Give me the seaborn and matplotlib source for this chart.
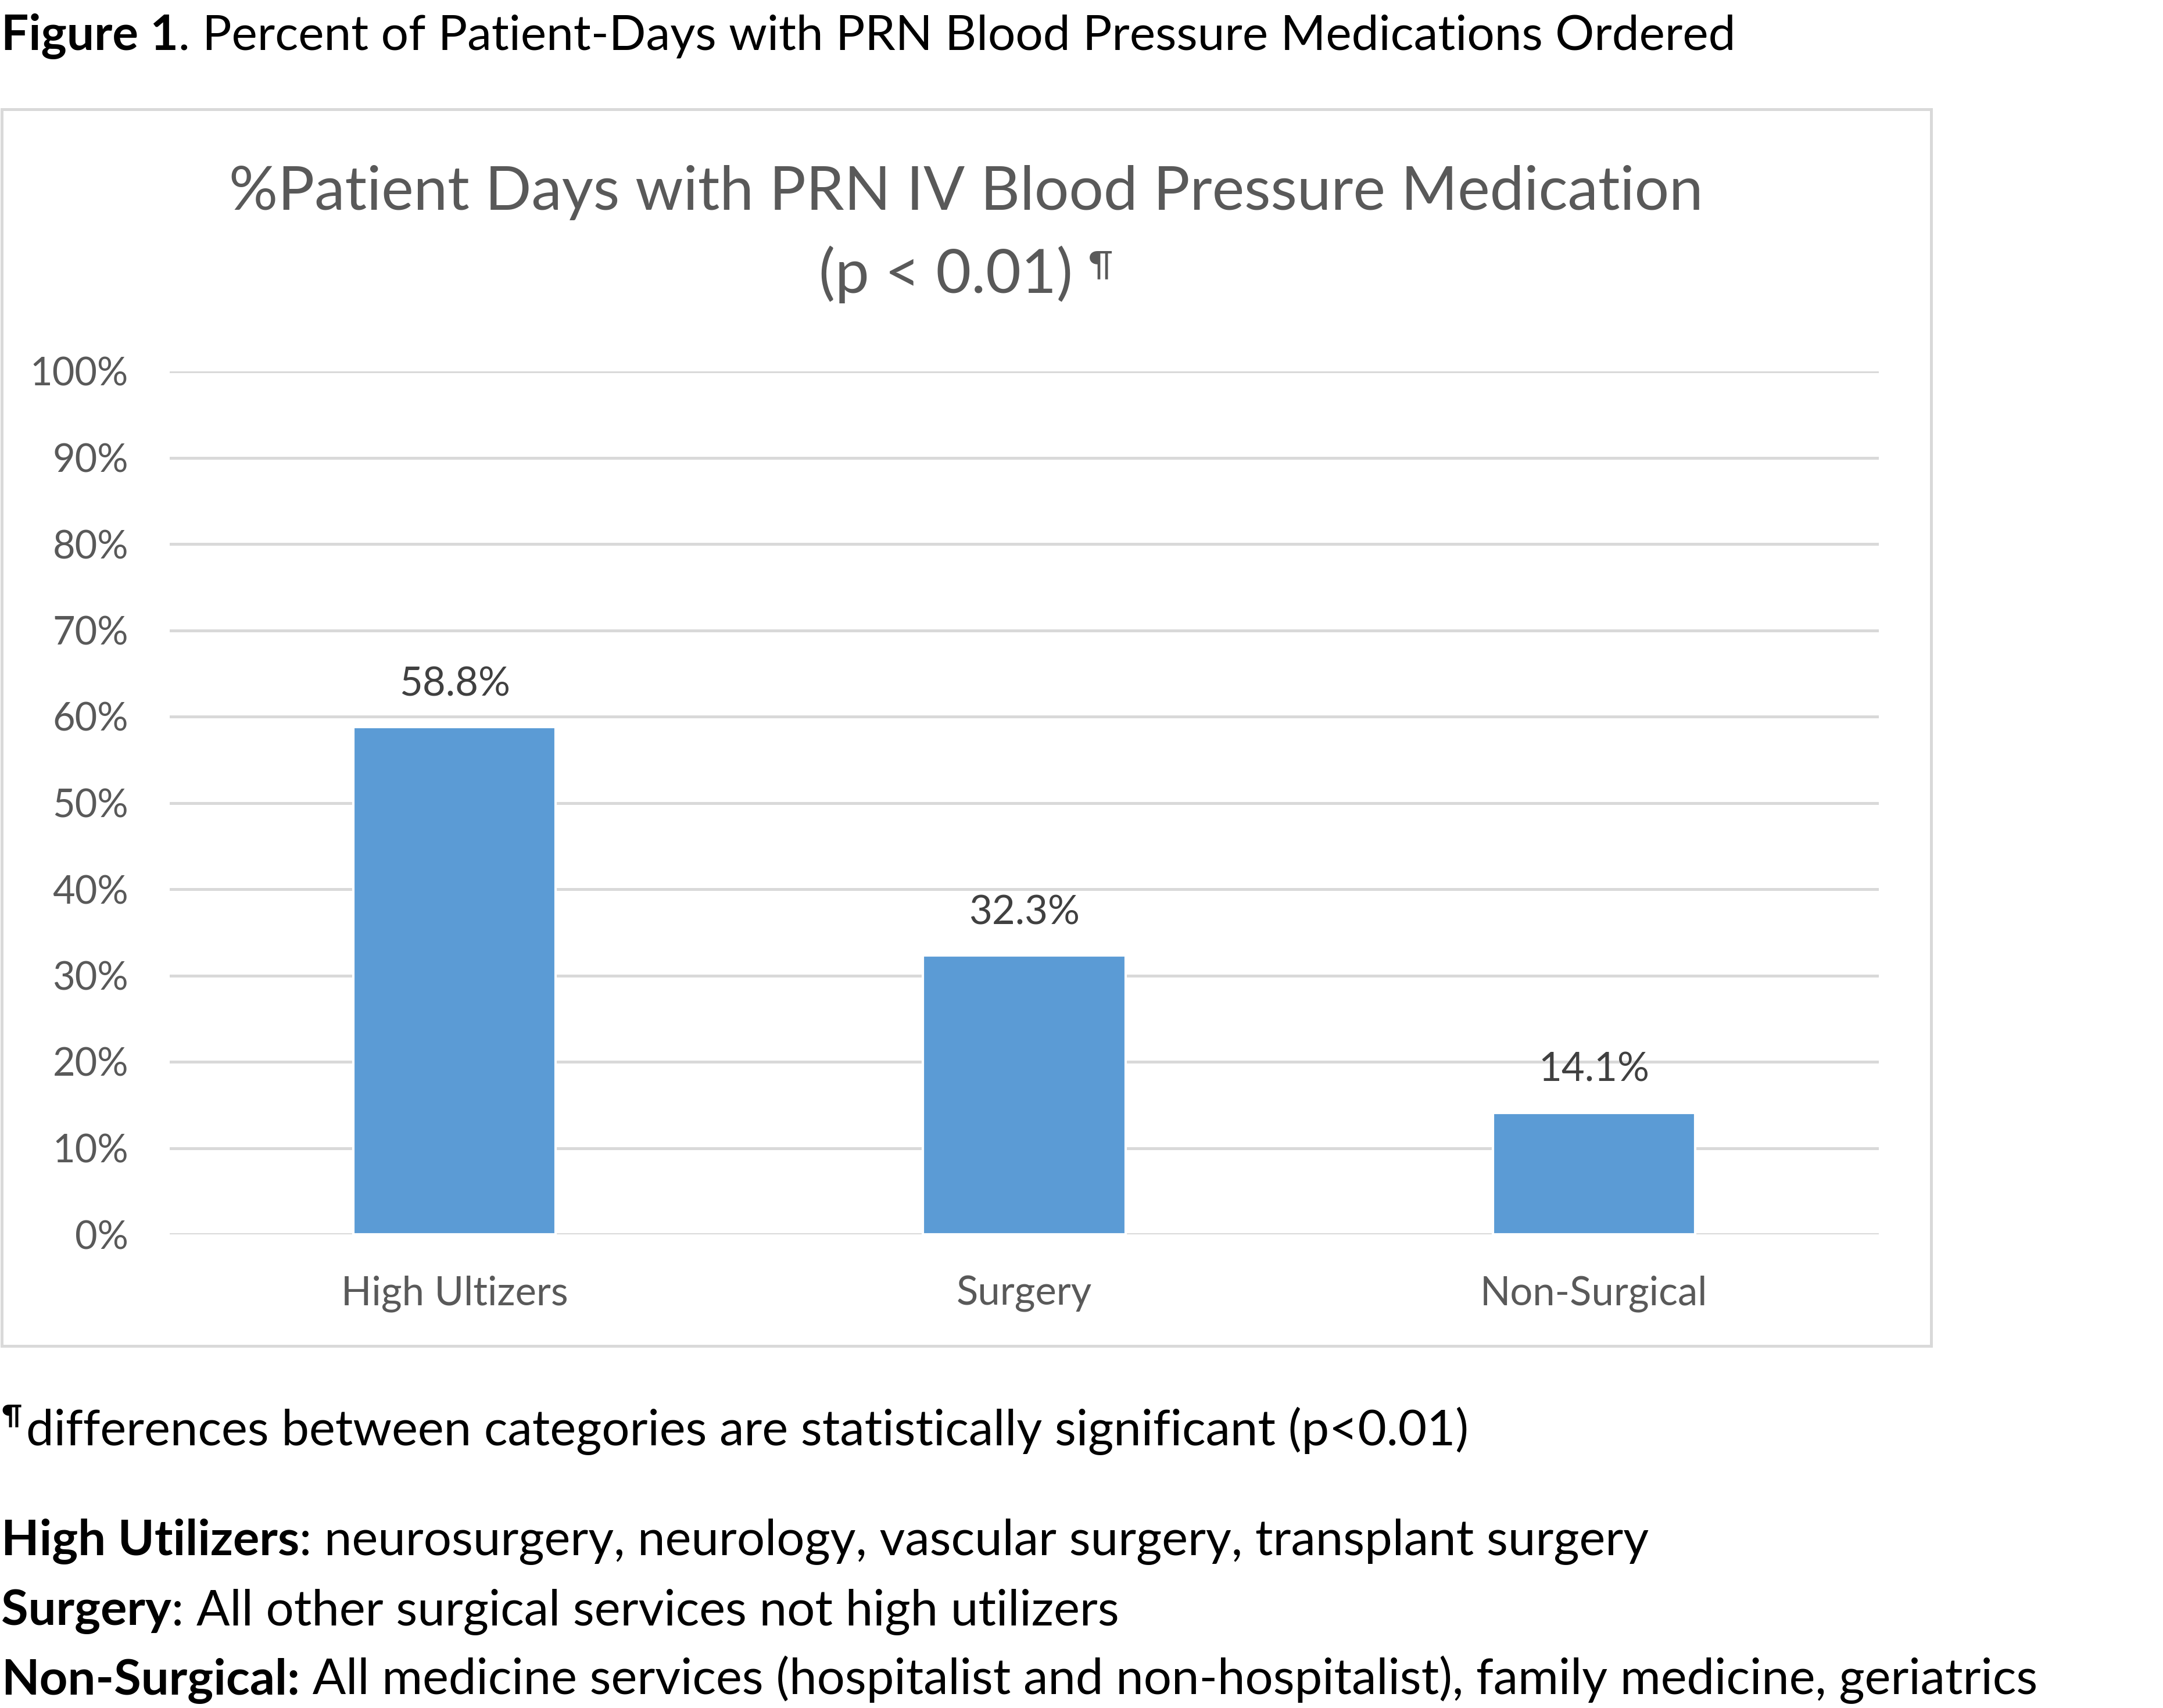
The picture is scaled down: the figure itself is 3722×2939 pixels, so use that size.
import matplotlib
matplotlib.use("Agg")
import numpy as np
import seaborn as sns
import matplotlib.pyplot as plt
from matplotlib.patches import Rectangle

# data
categories = ['High Ultizers', 'Surgery', 'Non-Surgical']
pct_days = [58.8, 32.3, 14.1]
y_ticks = [0, 10, 20, 30, 40, 50, 60, 70, 80, 90, 100]
y_tick_labels = ['0%', '10%', '20%', '30%', '40%', '50%', '60%', '70%', '80%', '90%', '100%']

caption_bold = 'Figure 1'
caption_rest = '. Percent of Patient-Days with PRN Blood Pressure Medications Ordered'
chart_title = '%Patient Days with PRN IV Blood Pressure Medication'
chart_subtitle = '(p < 0.01) '
footnote = 'differences between categories are statistically significant (p<0.01)'
legend_heads = ['High Utilizers', 'Surgery', 'Non-Surgical:']
legend_texts = [': neurosurgery, neurology, vascular surgery, transplant surgery',
                ': All other surgical services not high utilizers',
                ' All medicine services (hospitalist and non-hospitalist), family medicine, geriatrics']

W, H = 3722, 2939
DPI = 300

sns.set_theme(style='white')
plt.rcParams['font.family'] = ['Lato', 'DejaVu Sans']

fig = plt.figure(figsize=(W / DPI, H / DPI), dpi=DPI)
fig.patch.set_facecolor('white')


def fx(px):
    return px / W


def fy(py):
    return 1 - py / H


# chart frame
fig.patches.append(Rectangle((fx(3), fy(2316)), fx(3323 - 3), fy(188) - fy(2316),
                             transform=fig.transFigure, fill=False,
                             edgecolor='#D9D9D9', linewidth=1.2))

ax = fig.add_axes([fx(292), fy(2124), fx(3233) - fx(292), fy(639) - fy(2124)])
sns.barplot(x=categories, y=pct_days, color='#5B9BD5', saturation=1, width=0.355, ax=ax)
ax.set_xlim(-0.5, 2.5)
ax.set_ylim(0, 100)
ax.set_yticks(y_ticks)
ax.set_yticklabels(y_tick_labels)
ax.yaxis.grid(True, color='#D9D9D9', linewidth=1.2)
ax.set_axisbelow(True)
for s in ax.spines.values():
    s.set_visible(False)
ax.tick_params(axis='y', length=0, pad=17, labelsize=16, labelcolor='#595959')
ax.tick_params(axis='x', length=0, pad=17, labelsize=16.5, labelcolor='#595959')
ax.set_xlabel('')
ax.set_ylabel('')

for cont in ax.containers:
    ax.bar_label(cont, labels=['%.1f%%' % v for v in pct_days], padding=10,
                 fontsize=16.5, color='#404040')

# chart title
fig.text(fx(1662), fy(361), chart_title, ha='center', va='baseline',
         fontsize=25.2, color='#595959')

renderer = fig.canvas.get_renderer()
sub = fig.text(0, fy(504), chart_subtitle, ha='left', va='baseline',
               fontsize=25.2, color='#595959')
pil = fig.text(0, fy(474), '\u00b6', ha='left', va='baseline',
               fontsize=14.5, color='#595959')
w_sub = sub.get_window_extent(renderer).width
w_pil = pil.get_window_extent(renderer).width
x0 = 1662 - (w_sub + w_pil) / 2
sub.set_x(fx(x0))
pil.set_x(fx(x0 + w_sub))

# caption
t = fig.text(fx(2), fy(85), caption_bold, ha='left', va='baseline',
             fontsize=20.1, fontweight='bold', color='black')
wb = t.get_window_extent(renderer).width
fig.text(fx(2 + wb), fy(85), caption_rest, ha='left', va='baseline',
         fontsize=20.1, color='black')

# footnote
p = fig.text(fx(2), fy(2452), '\u00b6', ha='left', va='baseline',
             fontsize=11.5, fontweight='bold', color='black')
wp = p.get_window_extent(renderer).width
fig.text(fx(2 + wp + 8), fy(2487), footnote, ha='left', va='baseline',
         fontsize=20.4, color='black')

# group definitions
for head, rest, base in zip(legend_heads, legend_texts, [2675, 2796, 2915]):
    h = fig.text(fx(2), fy(base), head, ha='left', va='baseline',
                 fontsize=20.4, fontweight='bold', color='black')
    wh = h.get_window_extent(renderer).width
    fig.text(fx(2 + wh), fy(base), rest, ha='left', va='baseline',
             fontsize=20.4, color='black')

fig.savefig('out.png', dpi=DPI, facecolor='white')
